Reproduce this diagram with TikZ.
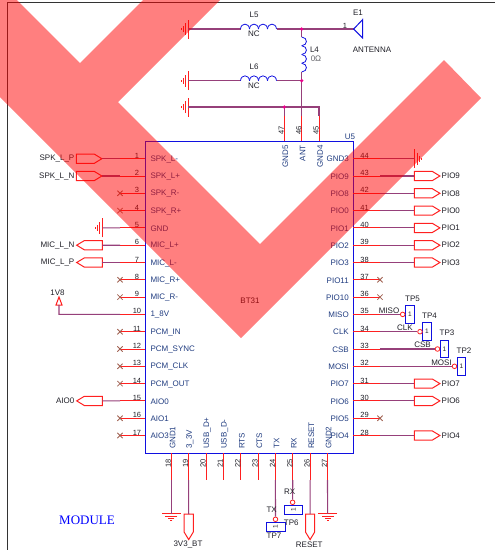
\documentclass[tikz,border=0pt]{standalone}
\usepackage{fontspec}
\setmainfont{Liberation Sans}
\newfontfamily\modulefont{Liberation Serif}
\usetikzlibrary{shapes.misc}
\definecolor{wirecol}{HTML}{96407A}
\definecolor{pincol}{HTML}{FF2020}
\definecolor{chipcol}{HTML}{1010E0}
\definecolor{chiptext}{HTML}{203C80}
\definecolor{nettext}{HTML}{202028}
\definecolor{crosscol}{HTML}{A06050}
\tikzset{
	allnodes/.style={inner sep=0pt,font=\fontsize{8}{9.6}\selectfont},
	pinline/.style={draw=pincol,line width=1pt},
	wire/.style={draw=wirecol,line width=1.1pt},
	pinnum/.style={allnodes,text=nettext,font=\fontsize{7.5}{9}\selectfont},
	pinlabel/.style={allnodes,text=chiptext},
	netlabel/.style={allnodes,text=nettext},
	nomark/.style={cross out,draw=crosscol,line width=0.8pt,minimum size=4.5pt,inner sep=0pt},
	junction/.style={circle,fill=magenta,inner sep=0pt,minimum size=3.6pt},
	coil/.style={draw=chipcol,line width=0.8pt},
	tpbox/.style={allnodes,draw=chipcol,line width=1pt,text=nettext,font=\fontsize{6.5}{8}\selectfont},
	tpcirc/.style={circle,draw=pincol,line width=0.8pt,fill=white,inner sep=0pt,minimum size=4.6pt},
	port/.pic={\draw[pinline] (0,-4.6) -- (18,-4.6) -- (25.6,0) -- (18,4.6) -- (0,4.6) -- cycle;},
	gnd/.pic={
		\draw[pinline] (0,-9.5) -- (0,9.5);
		\draw[pinline] (2.5,-6) -- (2.5,6);
		\draw[pinline] (5,-3) -- (5,3);
		\draw[pinline] (7,-1) -- (7,1);
	},
}
\begin{document}
\begin{tikzpicture}[x=1pt,y=-1pt]
	\useasboundingbox (0,0) rectangle (495,550);
	\draw[draw=black!80,line width=0.9pt] (7,550) -- (7,2) -- (495,2);

	\draw[draw=chipcol,line width=1pt] (145.3,141) rectangle (353.3,453);
	\node[pinlabel] (chipname) at (350,137) {U5};
	\node[allnodes,text=nettext] (bt) at (250,301) {BT31};

	\foreach \n/\lab in {1/SPK\_L-,2/SPK\_L+,3/SPK\_R-,4/SPK\_R+,5/GND,6/MIC\_L+,7/MIC\_L-,8/MIC\_R+,9/MIC\_R-,10/1\_8V,11/PCM\_IN,12/PCM\_SYNC,13/PCM\_CLK,14/PCM\_OUT,15/AIO0,16/AIO1,17/AIO3} {
		\pgfmathsetmacro\yy{158.7+17.3*(\n-1)}
		\coordinate (pinL\n) at (145.3,\yy);
		\coordinate (endL\n) at (120,\yy);
		\draw[pinline] (pinL\n) -- (endL\n);
		\node[pinnum] (numL\n) at (137,\yy-3) {\n};
		\node[pinlabel,anchor=west] (labL\n) at (150.3,\yy+0.5) {\lab};
	}
	\foreach \n/\lab in {44/GND3,43/PIO9,42/PIO8,41/PIO0,40/PIO1,39/PIO2,38/PIO3,37/PIO11,36/PIO10,35/MISO,34/CLK,33/CSB,32/MOSI,31/PIO7,30/PIO6,29/PIO5,28/PIO4} {
		\pgfmathsetmacro\yy{158.7+17.3*(44-\n)}
		\coordinate (pinR\n) at (353.3,\yy);
		\coordinate (endR\n) at (380,\yy);
		\draw[pinline] (pinR\n) -- (endR\n);
		\node[pinnum] (numR\n) at (364.5,\yy-3) {\n};
		\node[pinlabel,anchor=east] (labR\n) at (349,\yy+0.5) {\lab};
	}
	\foreach \n/\lab in {18/GND1,19/3\_3V,20/USB\_D+,21/USB\_D-,22/RTS,23/CTS,24/TX,25/RX,26/RESET,27/GND2} {
		\pgfmathsetmacro\xx{171.3+17.35*(\n-18)}
		\coordinate (pinB\n) at (\xx,453);
		\coordinate (endB\n) at (\xx,480);
		\draw[pinline] (pinB\n) -- (endB\n);
		\node[pinnum,rotate=90] (numB\n) at (\xx-3,463) {\n};
		\node[pinlabel,rotate=90,anchor=west] (labB\n) at (\xx+1.2,449) {\lab};
	}
	\foreach \n/\xx/\lab in {47/284.3/GND5,46/301.7/ANT,45/319/GND4} {
		\coordinate (pinT\n) at (\xx,141);
		\coordinate (endT\n) at (\xx,116);
		\draw[pinline] (pinT\n) -- (endT\n);
		\node[pinnum,rotate=90] (numT\n) at (\xx-3,130.5) {\n};
		\node[pinlabel,rotate=90,anchor=east] (labT\n) at (\xx+1,145) {\lab};
	}

	\foreach \n in {3,4,8,9,11,12,13,14,16,17} {
		\node[nomark] (crossL\n) at (endL\n) {};
	}
	\foreach \n in {37,36,29} {
		\node[nomark] (crossR\n) at (endR\n) {};
	}

	\foreach \n/\yy/\lab in {1/158.7/SPK\_L\_P,2/176/SPK\_L\_N} {
		\coordinate (portL\n) at (76.3,\yy);
		\coordinate (tipL\n) at (101.9,\yy);
		\pic at (portL\n) {port};
		\draw[wire] (tipL\n) -- (endL\n);
		\node[netlabel,anchor=east] (netL\n) at (74.5,\yy) {\lab};
	}
	\foreach \n/\yy/\lab in {6/245.2/MIC\_L\_N,7/262.5/MIC\_L\_P,15/400.9/AIO0} {
		\coordinate (portL\n) at (102.3,\yy);
		\coordinate (tipL\n) at (76.7,\yy);
		\pic[rotate=180] at (portL\n) {port};
		\draw[wire] (portL\n) -- (endL\n);
		\node[netlabel,anchor=east] (netL\n) at (74.5,\yy) {\lab};
	}
	\foreach \n/\lab in {43/PIO9,42/PIO8,41/PIO0,40/PIO1,39/PIO2,38/PIO3,31/PIO7,30/PIO6,28/PIO4} {
		\pgfmathsetmacro\yy{158.7+17.3*(44-\n)}
		\coordinate (portR\n) at (414.3,\yy);
		\pic at (portR\n) {port};
		\draw[wire] (endR\n) -- (portR\n);
		\node[netlabel,anchor=west] (netR\n) at (441.5,\yy) {\lab};
	}

	\coordinate (gndL5) at (102.3,227.9);
	\pic[rotate=180] at (gndL5) {gnd};
	\draw[wire] (gndL5) -- (endL5);
	\coordinate (gndR44) at (414.7,158.7);
	\pic at (gndR44) {gnd};
	\draw[wire] (endR44) -- (gndR44);

	\coordinate (vddA) at (59,305);
	\coordinate (vddB) at (59,314.4);
	\draw[pinline] (vddA) -- ++(-3,0) -- ++(3,-8) -- ++(3,8) -- cycle;
	\draw[wire] (vddA) -- (vddB) -- (endL10);
	\node[netlabel] (vddname) at (57.5,293) {1V8};

	\coordinate (gndA) at (188,29);
	\coordinate (gndB) at (188,80.7);
	\coordinate (gndC) at (188,107);
	\pic[rotate=180] at (gndA) {gnd};
	\pic[rotate=180] at (gndB) {gnd};
	\pic[rotate=180] at (gndC) {gnd};
	\coordinate (coilAin) at (240.5,29);
	\coordinate (coilAout) at (276.5,29);
	\coordinate (coilBin) at (240.5,80.7);
	\coordinate (coilBout) at (276.5,80.7);
	\coordinate (coilCin) at (301.7,37);
	\coordinate (coilCout) at (301.7,72);
	\coordinate (gndCtop) at (319,107);
	\coordinate (juncAc) at (301.7,29);
	\coordinate (juncBc) at (301.7,80.7);
	\coordinate (juncCc) at (284.3,107);
	\coordinate (antpin) at (353.7,29);
	\draw[wire] (gndA) -- (coilAin);
	\draw[wire] (gndB) -- (coilBin);
	\draw[wire] (gndC) -- (juncCc) -- (gndCtop) -- (endT45);
	\draw[wire] (juncCc) -- (endT47);
	\draw[wire] (juncBc) -- (endT46);
	\draw[wire] (coilAout) -- (juncAc) -- (antpin);
	\draw[wire] (juncAc) -- (coilCin);
	\draw[wire] (coilCout) -- (juncBc);
	\draw[wire] (coilBout) -- (juncBc);
	\node[junction] (juncA) at (juncAc) {};
	\node[junction] (juncB) at (juncBc) {};
	\node[junction] (juncC) at (juncCc) {};
	\foreach \xx in {240.5,249.5,258.5,267.5} {
		\draw[coil] (\xx,29) .. controls (\xx+0.5,22.5) and (\xx+8.5,22.5) .. (\xx+9,29);
		\draw[coil] (\xx,80.7) .. controls (\xx+0.5,74.2) and (\xx+8.5,74.2) .. (\xx+9,80.7);
	}
	\foreach \yy in {37,45.75,54.5,63.25} {
		\draw[coil] (301.7,\yy) .. controls (308,\yy+0.5) and (308,\yy+8.25) .. (301.7,\yy+8.75);
	}
	\node[netlabel] (l5name) at (254,15) {L5};
	\node[netlabel] (l5val) at (254,34) {NC};
	\node[netlabel] (l6name) at (254,67) {L6};
	\node[netlabel] (l6val) at (254,85.5) {NC};
	\node[netlabel] (l4name) at (314.5,50) {L4};
	\node[pinlabel,text=nettext!70] (l4val) at (316,59) {0Ω};

	\draw[draw=chipcol,line width=1pt] (antpin) -- (362.7,19.5) -- (362.7,38) -- cycle;
	\node[pinnum] (antnum) at (345,26) {1};
	\node[netlabel] (e1name) at (358,13) {E1};
	\node[netlabel] (antname) at (372,50) {ANTENNA};

	\foreach \tp/\pin/\boxx/\circx/\netx/\lab in {5/35/410/402.7/389/MISO,4/34/427/420/405/CLK,3/33/444.5/437.5/422.5/CSB,2/32/461.5/454.5/441.5/MOSI} {
		\pgfmathsetmacro\yy{158.7+17.3*(44-\pin)}
		\node[tpbox,minimum width=8.6pt,minimum height=17.7pt] (tpb\tp) at (\boxx,\yy) {1};
		\node[tpcirc] (tpc\tp) at (\circx,\yy) {};
		\draw[wire] (endR\pin) -- (tpc\tp);
		\node[netlabel] (tpn\tp) at (\boxx+2.5,\yy-16) {TP\tp};
		\node[netlabel] (tpl\tp) at (\netx,\yy-4) {\lab};
	}

	\coordinate (gndB18) at (171.3,513.5);
	\pic[rotate=-90] at (gndB18) {gnd};
	\draw[wire] (endB18) -- (gndB18);
	\coordinate (gndB27) at (327.7,513.5);
	\pic[rotate=-90] at (gndB27) {gnd};
	\draw[wire] (endB27) -- (gndB27);
	\coordinate (portB19) at (188.7,514);
	\pic[rotate=-90] at (portB19) {port};
	\draw[wire] (endB19) -- (portB19);
	\node[netlabel] (net19) at (188,544.5) {3V3\_BT};
	\coordinate (portB26) at (310.1,514);
	\pic[rotate=-90] at (portB26) {port};
	\draw[wire] (endB26) -- (portB26);
	\node[netlabel] (net26) at (309.3,544.5) {RESET};

	\node[tpbox,minimum width=19pt,minimum height=9pt] (tpb7) at (275.5,526.8) {\rotatebox{90}{1}};
	\node[tpcirc] (tpc7) at (275.5,519.3) {};
	\draw[wire] (endB24) -- (tpc7);
	\node[netlabel] (tpl7) at (271.7,510) {TX};
	\node[netlabel] (tpn7) at (274,535.5) {TP7};
	\node[tpbox,minimum width=18pt,minimum height=9pt] (tpb6) at (293.3,509.8) {\rotatebox{90}{1}};
	\node[tpcirc] (tpc6) at (292.6,502.3) {};
	\draw[wire] (endB25) -- (tpc6);
	\node[netlabel] (tpl6) at (289.7,492) {RX};
	\node[netlabel] (tpn6) at (291.3,522.3) {TP6};

	\node[allnodes,text=blue,font=\modulefont\fontsize{13}{15}\selectfont] (module) at (87,520) {MODULE};

	\fill[red,fill opacity=0.5] (0,0) -- (17,0) -- (80,63) -- (143,0) -- (220,0) -- (118,102) -- (260,244) -- (444,60) -- (481,98) -- (241,338) -- (0,97) -- cycle;
\end{tikzpicture}
\end{document}
